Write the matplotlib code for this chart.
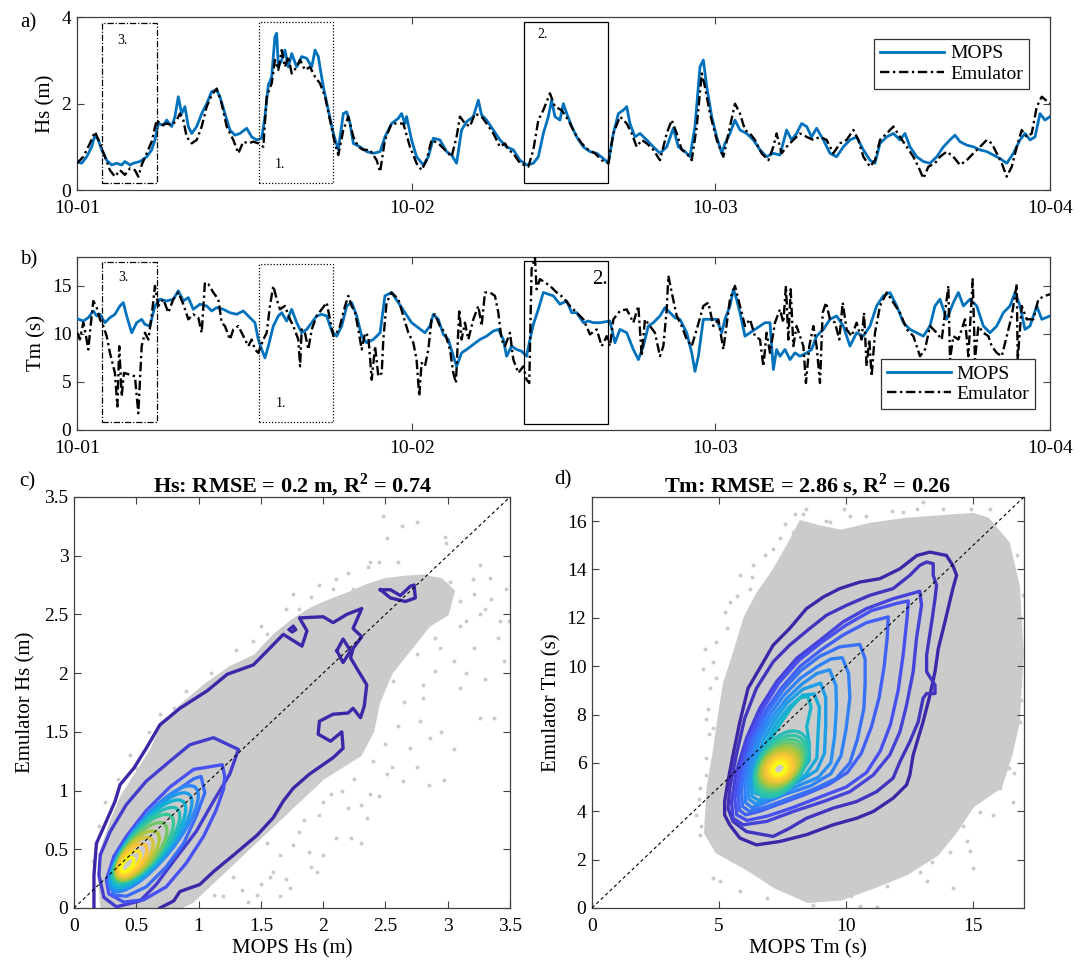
"""Recreate the MOPS vs emulator wave comparison figure (time series + scatter)."""

import matplotlib

matplotlib.use("Agg")

import matplotlib.pyplot as plt
from matplotlib.colors import LinearSegmentedColormap
from matplotlib.patches import Ellipse, Polygon, Rectangle

plt.rcParams["font.family"] = ["Liberation Serif", "DejaVu Serif"]
plt.rcParams["mathtext.fontset"] = "custom"
plt.rcParams["mathtext.rm"] = "Liberation Serif"
plt.rcParams["mathtext.bf"] = "Liberation Serif:bold"

# ---------------------------------------------------------------- time axis
TIME_TICKS = [0.0, 24.8, 47.2, 72.0]  # hours from the left edge
TIME_TICK_LABELS = ["10-01", "10-02", "10-03", "10-04"]

# ---------------------------------------------------------------- panel a: Hs
HS_MOPS_T = [
    0, 0.35, 0.72, 1.09, 1.33, 1.58, 1.83, 2.20, 2.57, 2.94, 3.31, 3.55, 3.92, 4.17, 4.66,
    5.16, 5.53, 5.77, 6.02, 6.39, 6.64, 7.01, 7.25, 7.50, 7.75, 7.99, 8.24, 8.49, 8.86, 9.23,
    9.60, 9.97, 10.34, 10.58, 10.95, 11.32, 11.69, 12.06, 12.56, 12.93, 13.30, 13.67, 13.91,
    14.16, 14.41, 14.65, 14.78, 14.90, 15.15, 15.39, 15.64, 15.89, 16.26, 16.63, 17.00, 17.37,
    17.62, 17.86, 17.98, 18.23, 18.60, 18.97, 19.34, 19.71, 19.96, 20.21, 20.45, 20.94, 21.44,
    21.93, 22.43, 22.79, 23.28, 23.78, 24.02, 24.27, 24.39, 24.76, 25.13, 25.63, 26.00, 26.37,
    26.86, 27.35, 27.72, 28.09, 28.46, 28.83, 29.33, 29.70, 29.94, 30.31, 30.81, 31.30, 31.79,
    32.29, 32.78, 33.27, 33.77, 34.14, 34.51, 34.88, 35.12, 35.37, 35.74, 35.99, 36.24, 36.61,
    36.98, 37.47, 37.96, 38.46, 38.95, 39.32, 39.69, 40.06, 40.43, 40.68, 40.92, 41.29, 41.66,
    42.16, 42.65, 43.14, 43.64, 44.13, 44.50, 45.00, 45.36, 45.73, 46.10, 46.35, 46.60, 46.97,
    47.34, 47.71, 47.95, 48.32, 48.69, 49.06, 49.55, 50.05, 50.54, 51.03, 51.53, 52.02, 52.51,
    52.88, 53.25, 53.62, 54.00, 54.36, 54.73, 55.23, 55.72, 56.21, 56.71, 57.20, 57.69, 58.19,
    58.68, 59.05, 59.42, 59.92, 60.41, 60.90, 61.27, 61.64, 62.14, 62.63, 63.12, 63.62, 64.11,
    64.60, 64.97, 65.34, 65.84, 66.33, 66.82, 67.32, 67.81, 68.30, 68.80, 69.29, 69.78, 70.15,
    70.52, 70.89, 71.26, 71.63, 72.0,
]
HS_MOPS = [
    0.66, 0.62, 0.77, 1.00, 1.27, 1.16, 0.93, 0.69, 0.58, 0.62, 0.58, 0.66, 0.58, 0.62, 0.66,
    0.77, 0.93, 1.16, 1.54, 1.50, 1.62, 1.47, 1.70, 2.16, 1.77, 1.93, 1.47, 1.31, 1.47, 1.77,
    2.00, 2.28, 2.31, 2.16, 1.77, 1.39, 1.27, 1.31, 1.43, 1.23, 1.16, 1.20, 1.70,
    2.43, 2.62, 3.55, 3.63, 2.85, 3.01, 3.24, 2.85, 3.16, 2.85, 3.09, 3.05, 2.85,
    3.24, 3.09, 2.85, 2.39, 1.85, 1.31, 0.93, 1.77, 1.81, 1.54, 1.08, 1.00, 0.89,
    0.85, 0.89, 1.23, 1.54, 1.66, 1.77, 1.54, 1.70, 1.16, 0.77, 0.58, 0.77, 1.20,
    1.16, 0.89, 0.81, 0.62, 1.39, 1.58, 1.70, 2.08, 1.74, 1.62, 1.39, 1.16, 1.00,
    0.93, 0.69, 0.58, 0.62, 0.77, 1.31, 1.70, 2.08, 1.70, 1.62, 2.00, 1.77, 1.47,
    1.23, 1.00, 0.89, 0.85, 0.73, 0.62, 1.31, 1.77, 1.85, 1.93, 1.54, 1.23, 1.31,
    1.16, 1.00, 0.85, 1.00, 1.43, 1.00, 0.89, 0.77, 1.47, 2.85, 3.01, 2.39, 1.70,
    1.23, 0.85, 1.08, 1.31, 1.62, 1.39, 1.31, 1.16, 0.93, 0.77, 0.85, 0.81, 1.39,
    1.16, 1.31, 1.54, 1.47, 1.23, 1.43, 1.16, 0.85, 0.77, 1.00, 1.16, 1.23, 0.93,
    0.69, 0.62, 1.08, 1.23, 1.31, 1.16, 1.31, 1.00, 0.77, 0.66, 0.62, 0.77, 1.00,
    1.16, 1.27, 1.12, 1.04, 1.00, 0.93, 0.89, 0.81, 0.73, 0.62, 0.85, 1.16, 1.31,
    1.16, 1.23, 1.77, 1.62, 1.70,
]
HS_EMU_T = [
    0, 0.47, 0.96, 1.33, 1.70, 2.07, 2.44, 2.81, 3.18, 3.55, 3.92, 4.29, 4.54, 4.79, 5.16,
    5.53, 5.90, 6.27, 6.64, 7.01, 7.38, 7.62, 7.87, 8.12, 8.49, 8.86, 9.23, 9.60, 9.97, 10.34,
    10.71, 11.08, 11.57, 11.94, 12.31, 12.68, 13.05, 13.42, 13.79, 14.04, 14.41, 14.65, 14.90,
    15.15, 15.39, 15.64, 15.89, 16.26, 16.51, 16.87, 17.24, 17.62, 17.98, 18.36, 18.72, 19.09,
    19.34, 19.71, 20.08, 20.45, 20.82, 21.19, 21.68, 22.18, 22.43, 22.79, 23.28, 23.78, 24.15,
    24.64, 25.13, 25.50, 25.87, 26.24, 26.74, 27.23, 27.72, 28.09, 28.34, 28.71, 29.08, 29.45,
    29.94, 30.31, 30.81, 31.30, 31.67, 31.92, 32.29, 32.78, 33.40, 33.77, 34.14, 34.51, 35.00,
    35.37, 35.86, 36.36, 36.85, 37.35, 37.84, 38.33, 38.83, 39.32, 39.69, 40.18, 40.68, 41.05,
    41.42, 41.79, 42.16, 42.65, 43.14, 43.64, 44.01, 44.38, 44.75, 45.12, 45.49, 45.86, 46.23,
    46.47, 46.84, 47.34, 47.83, 48.32, 48.69, 49.06, 49.43, 49.80, 50.17, 50.66, 51.16, 51.53,
    51.77, 52.14, 52.51, 53.01, 53.50, 54.00, 54.49, 54.98, 55.47, 55.97, 56.46, 56.95, 57.45,
    57.82, 58.19, 58.68, 59.05, 59.42, 59.92, 60.41, 60.90, 61.40, 61.89, 62.26, 62.63, 63.00,
    63.49, 63.86, 64.36, 64.85, 65.34, 65.84, 66.33, 66.82, 67.32, 67.69, 68.06, 68.43, 68.80,
    69.17, 69.54, 69.91, 70.28, 70.65, 71.02, 71.39, 72.0,
]
HS_EMU = [
    0.62, 0.77, 1.08, 1.35, 1.08, 0.77, 0.46, 0.31, 0.46, 0.35, 0.50, 0.46, 0.31, 0.58, 0.85,
    1.12, 1.62, 1.50, 1.54, 1.50, 1.62, 1.77, 1.62, 1.23, 1.08, 1.16, 1.47, 1.93, 2.20, 2.35,
    2.00, 1.47, 1.16, 0.85, 1.12, 1.08, 1.12, 1.08, 1.00, 2.16, 2.47, 3.01, 2.78,
    3.24, 2.85, 3.09, 2.70, 2.85, 3.01, 2.78, 2.85, 2.62, 2.47, 2.16, 1.62, 1.08,
    0.81, 1.39, 1.70, 1.23, 1.00, 0.93, 0.93, 0.69, 0.42, 1.16, 1.54, 1.54, 1.54,
    1.00, 0.62, 0.46, 0.69, 1.16, 1.08, 0.93, 0.77, 1.23, 1.70, 1.54, 1.47, 1.77,
    1.70, 1.54, 1.31, 1.00, 1.08, 0.93, 0.85, 0.62, 0.54, 0.93, 1.62, 1.85, 2.24,
    1.93, 1.85, 1.62, 1.31, 1.08, 0.93, 0.85, 0.69, 0.62, 1.31, 1.70, 1.54, 1.31,
    1.00, 1.16, 1.08, 0.93, 0.69, 1.31, 1.62, 1.31, 0.93, 0.85, 0.69, 1.47, 2.70,
    2.39, 1.77, 1.16, 0.77, 1.47, 2.00, 1.77, 1.39, 1.31, 1.16, 0.85, 0.69, 1.00,
    1.31, 0.85, 1.00, 1.16, 1.31, 1.23, 1.16, 1.23, 1.16, 0.85, 1.08, 1.16, 1.39,
    1.16, 0.77, 0.54, 0.69, 1.16, 1.31, 1.47, 1.23, 1.00, 0.77, 0.54, 0.27, 0.54,
    0.62, 0.77, 0.89, 0.77, 0.58, 0.69, 0.85, 1.00, 1.16, 1.08, 0.85, 0.62, 0.31,
    0.54, 1.00, 1.39, 1.23, 1.31, 1.93, 2.16, 2.00,
]

# ---------------------------------------------------------------- panel b: Tm
TM_MOPS_T = [
    0, 0.47, 0.84, 1.21, 1.46, 1.70, 2.07, 2.44, 2.81, 3.18, 3.43, 3.68, 4.05, 4.42, 4.79,
    5.03, 5.40, 5.77, 6.14, 6.64, 7.13, 7.50, 7.87, 8.24, 8.61, 9.10, 9.60, 9.97, 10.34, 10.83,
    11.32, 11.82, 12.31, 12.80, 13.17, 13.42, 13.67, 13.91, 14.16, 14.53, 14.90, 15.15, 15.52,
    15.89, 16.26, 16.63, 17.00, 17.37, 17.74, 18.11, 18.48, 18.85, 19.22, 19.59, 19.96, 20.33,
    20.70, 21.07, 21.44, 21.93, 22.43, 22.79, 23.28, 23.78, 24.27, 24.76, 25.26, 25.75, 26.12,
    26.37, 26.74, 27.11, 27.48, 27.85, 28.09, 28.46, 28.83, 29.33, 29.82, 30.31, 30.81, 31.18,
    31.55, 31.79, 32.16, 32.53, 32.90, 33.27, 33.52, 33.77, 34.14, 34.51, 34.88, 35.25, 35.74,
    36.24, 36.61, 36.98, 37.47, 37.84, 38.21, 38.70, 39.44, 39.81, 40.18, 40.68, 41.17, 41.54,
    41.91, 42.28, 42.65, 43.14, 43.51, 43.88, 44.25, 44.62, 45.12, 45.49, 45.73, 45.98, 46.35,
    46.84, 47.34, 47.71, 47.95, 48.32, 48.57, 48.81, 49.06, 49.43, 49.80, 50.17, 50.54, 50.91,
    51.28, 51.53, 51.77, 52.02, 52.39, 52.76, 53.13, 53.50, 54.00, 54.36, 54.73, 55.23, 55.72,
    56.21, 56.71, 57.20, 57.69, 58.19, 58.68, 59.17, 59.67, 60.16, 60.66, 61.15, 61.64, 62.14,
    62.63, 63.12, 63.49, 63.86, 64.36, 64.85, 65.22, 65.59, 66.08, 66.58, 67.07, 67.56, 68.06,
    68.55, 69.04, 69.41, 69.78, 70.15, 70.52, 71.02, 71.39, 72.0,
]
TM_MOPS = [
    11.58, 11.33, 11.68, 12.38, 11.86, 12.03, 11.16, 11.68, 12.03, 12.90, 13.25, 11.86, 10.11,
    11.16, 11.51, 10.98, 10.81, 12.90, 13.60, 13.42, 13.60, 14.47, 13.42, 13.77, 12.55, 13.08,
    12.90, 12.38, 12.73, 12.55, 12.20, 12.03, 12.38, 11.68, 11.16, 9.41, 8.37, 7.50, 8.72,
    10.81, 11.86, 12.20, 11.33, 12.55, 11.16, 10.11, 10.46, 11.16, 11.86, 12.03, 11.86, 10.29,
    9.76, 10.81, 12.90, 13.25, 11.86, 9.76, 9.07, 9.41, 10.11, 13.95, 14.30, 13.25, 12.20,
    11.16, 10.63, 10.11, 10.81, 12.03, 11.51, 9.94, 9.41, 7.67, 6.62, 8.02, 8.37, 8.89, 9.41,
    9.76, 10.29, 10.46, 9.41, 7.67, 8.72, 8.37, 8.19, 7.67, 9.41, 10.98, 12.55, 14.30, 14.12,
    13.95, 13.08, 13.42, 12.20, 12.20, 11.16, 11.33, 11.16, 11.16, 11.33, 9.07, 10.46, 10.11,
    8.37, 7.32, 8.72, 10.81, 11.16, 11.86, 12.73, 12.20, 11.68, 11.51, 10.11, 8.02, 6.10,
    7.67, 11.51, 11.51, 11.51, 10.11, 11.51, 12.90, 14.64, 13.60, 12.20, 9.76, 10.11, 10.46,
    10.81, 11.16, 11.16, 6.28, 8.37, 7.67, 8.37, 7.32, 8.02, 7.67, 8.02, 8.37, 9.76, 10.46,
    11.51, 11.86, 10.81, 8.72, 10.11, 9.76, 10.81, 12.90, 13.95, 14.30, 12.90, 11.16, 10.46,
    10.11, 9.76, 10.81, 12.90, 13.60, 11.51, 13.25, 14.30, 12.90, 13.60, 12.90, 10.81, 10.11,
    10.81, 12.20, 12.90, 14.30, 12.90, 10.46, 10.81, 12.90, 11.51, 11.86,
]
TM_EMU_T = [
    0.03, 0.22, 0.47, 0.67, 0.84, 1.01, 1.21, 1.46, 1.70, 1.95, 2.20, 2.44, 2.81, 2.99, 3.13,
    3.31, 3.48, 3.92, 4.29, 4.54, 4.79, 5.03, 5.28, 5.53, 5.77, 6.02, 6.39, 6.76, 7.13, 7.50,
    7.87, 8.24, 8.61, 8.98, 9.23, 9.47, 9.72, 10.09, 10.46, 10.71, 10.95, 11.32, 11.57, 11.94,
    12.31, 12.68, 12.93, 13.17, 13.42, 13.79, 14.04, 14.28, 14.53, 14.78, 15.02, 15.39, 15.76,
    16.01, 16.38, 16.51, 16.63, 16.87, 17.12, 17.37, 17.74, 18.11, 18.48, 18.72, 18.97, 19.22,
    19.46, 19.84, 20.08, 20.33, 20.58, 20.82, 21.07, 21.32, 21.56, 21.81, 22.06, 22.30, 22.55,
    22.67, 22.91, 23.28, 23.78, 24.15, 24.52, 24.89, 25.13, 25.33, 25.50, 25.75, 26.00, 26.24,
    26.49, 26.86, 27.23, 27.60, 27.85, 28.04, 28.29, 28.46, 28.71, 28.96, 29.33, 29.70, 29.94,
    30.19, 30.56, 30.93, 31.18, 31.42, 31.67, 32.04, 32.29, 32.66, 33.03, 33.27, 33.47, 33.64,
    33.89, 34.01, 34.26, 34.63, 35.00, 35.50, 35.99, 36.48, 36.98, 37.47, 37.96, 38.46, 38.83,
    39.20, 39.44, 39.69, 40.18, 40.68, 41.17, 41.54, 41.79, 42.03, 42.40, 42.77, 43.14, 43.39,
    43.64, 43.76, 44.01, 44.38, 44.75, 45.12, 45.49, 45.86, 46.35, 46.72, 47.09, 47.46, 47.83,
    48.32, 48.69, 49.06, 49.43, 49.80, 50.17, 50.54, 50.79, 51.03, 51.28, 51.65, 52.02, 52.27,
    52.46, 52.64, 52.81, 53.01, 53.25, 53.50, 53.75, 53.94, 54.19, 54.49, 54.73, 54.98, 55.18,
    55.43, 55.72, 56.09, 56.41, 56.66, 56.95, 57.32, 57.69, 58.06, 58.24, 58.43, 58.63, 58.80,
    59.05, 59.42, 59.92, 60.41, 60.90, 61.40, 61.89, 62.38, 62.75, 63.12, 63.62, 63.99, 64.48,
    64.60, 64.85, 65.22, 65.71, 65.96, 66.28, 66.45, 66.70, 67.07, 67.44, 67.69, 68.06, 68.43,
    68.80, 69.17, 69.54, 69.61, 69.91, 70.28, 70.77, 71.14, 71.63, 72.0,
]
TM_EMU = [
    10.11, 9.41, 11.16, 9.76, 8.37, 10.81, 13.42, 12.73, 11.51, 10.81, 9.76, 8.02, 5.93, 2.44,
    8.72, 3.49, 5.93, 5.75, 5.58, 1.74, 8.72, 10.11, 9.41, 11.86, 14.99, 12.90, 13.60, 12.20,
    13.60, 14.30, 13.08, 11.51, 12.03, 11.68, 10.11, 15.34, 15.17, 14.30, 13.60, 11.16, 10.81,
    9.41, 10.46, 10.81, 9.76, 8.72, 9.41, 8.37, 8.02, 9.41, 10.11, 12.90, 14.99, 13.60, 12.55,
    12.90, 11.51, 10.81, 9.41, 6.62, 10.46, 10.11, 8.37, 10.46, 11.86, 12.55, 13.25, 11.51,
    9.76, 10.11, 10.81, 12.90, 13.95, 12.90, 12.20, 10.46, 8.37, 10.11, 9.76, 5.23, 8.72, 5.58,
    5.93, 9.41, 13.25, 14.30, 13.60, 11.86, 10.11, 9.07, 7.32, 3.49, 6.97, 6.62, 8.37, 11.51,
    12.03, 10.81, 10.11, 8.37, 5.93, 4.88, 12.55, 9.41, 11.16, 9.41, 11.51, 12.90, 10.81,
    14.30, 14.30, 13.95, 12.20, 9.41, 8.72, 10.11, 7.32, 5.93, 6.62, 5.23, 4.88, 16.74,
    17.96, 14.64, 15.69, 15.34, 14.99, 14.30, 13.77, 12.90, 12.20, 11.51, 9.94, 10.46, 8.72,
    9.76, 8.72, 11.51, 12.38, 12.55, 11.16, 12.90, 7.67, 11.51, 10.81, 10.11, 7.67, 8.72,
    12.55, 16.04, 14.30, 11.86, 10.81, 9.41, 8.72, 10.46, 12.90, 13.25, 10.81, 11.51, 8.37,
    13.60, 14.99, 12.90, 10.81, 11.51, 9.76, 9.41, 6.62, 10.11, 8.02, 11.16, 12.55, 11.16,
    14.99, 9.41, 14.64, 8.72, 10.81, 9.76, 8.72, 4.88, 8.72, 10.81, 8.72, 4.88, 12.20,
    13.25, 11.51, 11.16, 9.41, 13.25, 10.46, 9.76, 11.16, 9.41, 12.20, 6.62, 9.41, 5.58,
    10.11, 12.90, 14.30, 13.25, 12.20, 10.46, 9.76, 7.67, 8.37, 10.81, 10.11, 9.41, 14.99,
    7.32, 9.76, 9.41, 11.51, 7.67, 15.69, 7.32, 10.81, 10.11, 9.76, 8.72, 8.02, 7.67,
    9.76, 11.86, 15.17, 7.32, 12.90, 11.51, 11.51, 13.60, 13.95, 14.12,
]

# highlighted events: label, start/end hour, bottom/top value in a and b
EVENT_LABELS = ["1.", "2.", "3."]
EVENT_START = [13.5, 33.1, 1.85]
EVENT_END = [18.95, 39.3, 5.9]
EVENT_HS_LOW = [0.155, 0.155, 0.155]
EVENT_HS_HIGH = [3.89, 3.89, 3.87]
EVENT_TM_LOW = [0.87, 0.63, 0.80]
EVENT_TM_HIGH = [17.30, 17.54, 17.44]
EVENT_HS_TEXT = [(14.65, 0.58), (34.1, 3.59), (2.96, 3.47)]
EVENT_TM_TEXT = [(14.7, 2.8), (38.1, 15.7), (3.03, 15.9)]

# ---------------------------------------------------------------- panel c: Hs scatter
C_TICKS = [0, 0.5, 1, 1.5, 2, 2.5, 3, 3.5]
C_TICK_LABELS = ["0", "0.5", "1", "1.5", "2", "2.5", "3", "3.5"]
C_TITLE = r"Hs: RMSE = 0.2 m, R$^{\mathbf{2}}$ = 0.74"
C_CLOUD = [
    (0.22, 0.0), (0.20, 0.25), (0.22, 0.5), (0.30, 0.75), (0.38, 0.95), (0.50, 1.15), (0.62, 1.35),
    (0.70, 1.55), (0.85, 1.72), (1.05, 1.90), (1.25, 2.05), (1.45, 2.15), (1.60, 2.32), (1.75, 2.45),
    (1.90, 2.55), (2.05, 2.62), (2.20, 2.68), (2.35, 2.75), (2.50, 2.80), (2.65, 2.82), (2.80, 2.83),
    (2.95, 2.80), (3.05, 2.70), (3.00, 2.50), (2.85, 2.40), (2.70, 2.20), (2.55, 2.00), (2.45, 1.75),
    (2.40, 1.50), (2.30, 1.30), (2.15, 1.20), (2.00, 1.10), (1.85, 0.95), (1.70, 0.80), (1.55, 0.65),
    (1.40, 0.50), (1.25, 0.35), (1.10, 0.20), (0.95, 0.05), (0.85, 0.0),
]
C_SPARSE_X = [
    2.48, 2.51, 2.63, 2.75, 2.98, 2.99, 2.38, 2.36, 3.26, 3.35, 3.34, 3.47, 3.26, 3.21, 3.42,
    3.05, 2.90, 3.10, 2.80, 3.26, 3.37, 2.78, 2.86, 2.70, 2.64, 2.97, 2.51, 2.35, 2.30, 2.38,
    2.22, 2.30, 1.97, 2.06, 1.89, 1.95, 1.76, 1.81, 1.60, 1.57, 1.47, 1.73, 1.28, 1.12, 2.08,
    2.35, 2.46, 2.62, 2.75, 2.56, 2.94, 3.10, 3.15, 3.02, 3.21, 3.49, 2.30, 2.24, 2.08, 1.97,
    1.81, 1.76, 1.55, 1.44, 1.28, 1.12, 0.80, 0.69, 0.50,
    1.55, 1.65, 1.85, 2.00, 2.10, 1.90, 1.70, 1.50, 1.35, 1.20, 2.25, 2.40, 2.50, 2.60, 2.55,
    2.45, 2.20, 2.65, 2.80, 2.90, 3.10, 3.30, 3.40, 3.15, 2.70, 2.85, 3.00, 3.20, 2.60, 2.45,
    2.20, 2.10, 1.90, 1.70, 1.50, 1.30, 1.10, 0.90, 0.60, 0.45, 0.35, 0.25, 0.20, 0.15,
    2.95, 3.05, 2.75, 2.85, 3.30, 3.45, 2.15, 2.00, 1.65, 1.40,
]
C_SPARSE_Y = [
    3.34, 3.15, 3.25, 3.29, 3.16, 3.11, 2.95, 2.90, 2.92, 2.63, 2.81, 2.72, 2.50, 2.21, 2.44,
    2.10, 2.02, 1.87, 1.79, 1.62, 1.62, 1.59, 1.45, 1.36, 1.08, 1.09, 1.14, 0.77, 0.88, 0.97,
    0.60, 0.55, 0.79, 0.97, 0.48, 0.31, 0.54, 0.65, 0.31, 0.26, 0.11, 0.17, 0.26, 0.11, 1.31,
    1.70, 2.02, 2.27, 2.16, 1.93, 2.21, 2.61, 2.44, 2.78, 2.67, 2.44, 2.67, 2.72, 2.72, 2.75,
    2.55, 2.67, 2.33, 2.27, 2.02, 1.93, 1.70, 1.65, 1.19,
    0.55, 0.45, 0.75, 0.90, 0.60, 0.35, 0.25, 0.20, 0.15, 0.10, 1.10, 1.25, 1.40, 1.55, 1.20,
    0.95, 0.85, 1.75, 1.90, 2.30, 2.40, 2.55, 2.30, 2.00, 2.45, 2.60, 2.65, 2.80, 2.95, 2.95,
    2.85, 2.80, 2.65, 2.55, 2.40, 2.20, 2.00, 1.85, 1.50, 1.30, 1.10, 0.90, 0.70, 0.40,
    1.50, 1.35, 1.20, 1.05, 1.95, 2.10, 1.00, 0.45, 0.10, 0.05,
]
C_OUTER = [
    (0.16, 0.0), (0.16, 0.28), (0.18, 0.55), (0.26, 0.74), (0.33, 0.91), (0.37, 1.05), (0.48, 1.19),
    (0.58, 1.36), (0.69, 1.56), (0.85, 1.70), (1.07, 1.85), (1.23, 1.99), (1.44, 2.07), (1.57, 2.21),
    (1.68, 2.33), (1.83, 2.23), (1.87, 2.36), (1.81, 2.47), (2.00, 2.48), (2.08, 2.43), (2.19, 2.50),
    (2.31, 2.55), (2.24, 2.38), (2.31, 2.31), (2.24, 2.21), (2.22, 2.13), (2.27, 2.04), (2.35, 1.90),
    (2.33, 1.72), (2.30, 1.62), (2.24, 1.70), (2.20, 1.66), (2.08, 1.65), (1.97, 1.59), (1.96, 1.48),
    (2.06, 1.42), (2.15, 1.50), (2.16, 1.36), (2.08, 1.28), (1.89, 1.14), (1.76, 1.02), (1.68, 0.91),
    (1.60, 0.77), (1.47, 0.62), (1.28, 0.45), (1.12, 0.31), (1.01, 0.20), (0.85, 0.14), (0.80, 0.06),
    (0.69, 0.0),
]
C_ISLANDS = [
    [(2.46, 2.71), (2.54, 2.71), (2.62, 2.66), (2.70, 2.74), (2.73, 2.75), (2.74, 2.64), (2.66, 2.61),
     (2.54, 2.64), (2.46, 2.71)],
    [(2.11, 2.19), (2.16, 2.29), (2.22, 2.19), (2.16, 2.09), (2.11, 2.19)],
    [(1.73, 2.37), (1.76, 2.40), (1.78, 2.37), (1.75, 2.35), (1.73, 2.37)],
]
C_RINGS = [
    [(1.12, 1.45), (1.32, 1.35), (1.25, 1.14), (1.12, 0.91), (0.98, 0.65), (0.80, 0.40), (0.66, 0.20),
     (0.53, 0.06), (0.34, 0.01), (0.24, 0.09), (0.20, 0.28), (0.21, 0.45), (0.29, 0.65), (0.42, 0.88),
     (0.58, 1.08), (0.77, 1.25), (0.93, 1.39), (1.12, 1.45)],
    [(1.19, 1.22), (1.21, 1.12), (1.20, 1.01), (1.14, 0.83), (1.04, 0.61), (0.90, 0.38), (0.74, 0.18),
     (0.56, 0.07), (0.40, 0.05), (0.28, 0.12), (0.26, 0.24), (0.32, 0.44), (0.42, 0.61), (0.58, 0.83),
     (0.77, 1.03), (0.96, 1.18), (1.19, 1.22)],
    [(1.02, 1.12), (1.05, 0.98), (0.98, 0.78), (0.88, 0.55), (0.74, 0.35), (0.58, 0.18), (0.42, 0.10),
     (0.32, 0.11), (0.29, 0.21), (0.33, 0.38), (0.45, 0.58), (0.61, 0.78), (0.80, 0.98), (0.96, 1.10),
     (1.02, 1.12)],
]
# inner rings: centre x, centre y, length, width, angle (deg)
C_CORE = [
    (0.64, 0.59, 1.10, 0.34, 53), (0.62, 0.57, 1.00, 0.32, 53), (0.60, 0.55, 0.90, 0.30, 53),
    (0.58, 0.53, 0.80, 0.28, 52), (0.56, 0.51, 0.70, 0.26, 52), (0.54, 0.48, 0.60, 0.235, 52),
    (0.51, 0.45, 0.50, 0.21, 52), (0.49, 0.43, 0.41, 0.18, 52), (0.47, 0.41, 0.32, 0.15, 52),
    (0.45, 0.39, 0.23, 0.11, 52), (0.43, 0.37, 0.14, 0.07, 52),
]

# ---------------------------------------------------------------- panel d: Tm scatter
D_XTICKS = [0, 5, 10, 15]
D_YTICKS = [0, 2, 4, 6, 8, 10, 12, 14, 16]
D_TITLE = r"Tm: RMSE = 2.86 s, R$^{\mathbf{2}}$ = 0.26"
D_CLOUD = [
    (4.45, 3.1), (4.55, 5.0), (4.8, 6.5), (5.0, 8.0), (5.2, 9.3), (5.6, 10.6), (6.0, 12.0),
    (6.5, 13.0), (7.1, 13.9), (7.7, 15.0), (8.2, 16.0), (8.9, 15.8), (9.8, 15.6), (11.0, 15.9),
    (12.4, 16.1), (13.7, 16.2), (15.0, 16.3), (15.6, 16.1), (16.4, 15.1), (16.8, 13.3),
    (16.95, 10.5), (16.8, 7.7), (16.5, 6.3), (16.1, 5.0), (15.0, 4.2), (14.3, 3.1), (13.6, 2.2),
    (12.4, 1.4), (11.1, 0.85), (9.8, 0.35), (8.5, 0.25), (7.2, 0.85), (6.1, 1.6), (4.9, 2.3),
]
D_SPARSE_X = [
    4.37, 4.44, 4.77, 4.50, 4.11, 4.24, 4.77, 5.03, 5.82, 6.87, 8.70, 10.54, 11.2, 13.17, 14.22,
    14.74, 14.87, 15.27, 16.05, 16.45, 16.84, 16.97, 16.84, 16.32, 15.66, 15.0, 13.03, 12.25,
    10.15, 8.44, 8.31, 7.92, 7.13, 6.34, 5.82, 5.42, 5.22, 4.90, 4.63, 4.57, 4.77, 4.50, 4.24,
    15.0, 15.79, 16.58, 16.71, 14.35, 11.07, 9.36, 16.6, 16.4, 4.6, 5.5, 6.2, 7.6, 12.9, 14.1,
    4.3, 4.2, 4.5, 4.9, 5.3, 5.7, 6.3, 6.8, 7.4, 8.0, 9.2, 9.9, 10.8, 11.8, 12.8, 13.8, 14.9,
    15.5, 16.2, 16.9, 16.7, 16.9, 16.6, 14.6, 13.4, 11.6, 10.2, 8.9, 7.9, 7.0, 6.5, 5.9, 5.3,
]
D_SPARSE_Y = [
    9.90, 10.73, 10.18, 6.19, 3.85, 3.03, 1.24, 1.10, 0.69, 0.41, 0.14, 0.07, 0.05, 1.10, 0.83,
    2.75, 2.34, 3.99, 4.95, 6.60, 7.70, 12.93, 9.22, 15.06, 16.51, 16.23, 16.78, 16.37,
    16.23, 16.51, 16.30, 15.55, 14.86, 14.17, 13.76, 12.66, 12.24, 11.00, 9.08, 8.25, 7.43, 5.50, 4.95,
    1.65, 3.85, 4.40, 14.58, 16.10, 15.27, 15.96, 11.5, 5.8, 7.2, 2.0, 13.2, 15.9, 1.5, 2.3,
    3.4, 4.5, 7.8, 9.5, 11.6, 12.9, 13.7, 14.6, 15.3, 16.3, 16.0, 16.5, 16.2, 16.4, 16.5, 16.5, 16.5,
    15.8, 14.3, 12.0, 10.0, 8.6, 5.6, 3.4, 1.9, 0.9, 0.5, 0.45, 0.6, 1.1, 1.5, 2.0, 2.4,
]
D_RINGS = [
    [(6.47, 2.61), (5.82, 2.89), (5.42, 3.44), (5.22, 3.85), (5.22, 4.40), (5.35, 5.23), (5.55, 6.33),
     (5.82, 7.70), (6.14, 9.08), (6.60, 9.91), (7.13, 10.87), (7.78, 11.56), (8.44, 12.38), (9.10, 12.86),
     (9.75, 13.21), (10.54, 13.48), (11.33, 13.62), (12.12, 14.03), (12.79, 14.58), (13.30, 14.72),
     (13.95, 14.58), (14.20, 14.17), (14.35, 13.76), (14.20, 13.20), (13.89, 11.83), (13.63, 10.73),
     (13.50, 9.77), (13.30, 8.80), (13.03, 7.70), (12.64, 6.33), (12.51, 5.50), (12.38, 5.09),
     (11.85, 4.54), (11.07, 3.99), (10.41, 3.71), (9.49, 3.44), (8.44, 3.03), (7.39, 2.75), (6.47, 2.61)],
    [(7.13, 2.96), (6.08, 3.16), (5.55, 3.58), (5.35, 4.13), (5.42, 4.95), (5.68, 6.33), (6.01, 7.84),
     (6.47, 9.08), (7.13, 10.18), (7.78, 10.87), (8.57, 11.56), (9.23, 12.11), (10.02, 12.52),
     (10.93, 12.93), (11.85, 13.21), (12.51, 13.76), (12.90, 14.17), (13.17, 14.31), (13.43, 14.24),
     (13.43, 13.76), (13.56, 13.34), (13.50, 12.79), (13.37, 11.83), (13.17, 10.46), (13.17, 9.77),
     (13.50, 9.22), (13.50, 8.87), (13.17, 8.87), (13.03, 8.67), (12.84, 7.70), (12.51, 6.88),
     (12.12, 6.05), (11.85, 5.37), (11.20, 4.81), (10.41, 4.40), (9.49, 4.13), (8.44, 3.71),
     (7.78, 3.30), (7.13, 2.96)],
    [(12.90, 13.10), (12.97, 12.52), (12.77, 11.14), (12.64, 9.77), (12.38, 8.39), (12.12, 7.29),
     (11.72, 6.33), (11.07, 5.50), (10.15, 4.81), (9.10, 4.40), (7.92, 3.99), (6.87, 3.58), (5.95, 3.44),
     (5.55, 3.71), (5.49, 4.40), (5.68, 5.64), (6.08, 7.02), (6.60, 8.25), (7.26, 9.35), (8.05, 10.32),
     (8.97, 11.07), (9.88, 11.83), (10.80, 12.38), (11.85, 12.79), (12.90, 13.10)],
    [(12.45, 12.70), (12.40, 12.0), (12.25, 10.5), (12.05, 9.0), (11.75, 7.6), (11.35, 6.5), (10.8, 5.6),
     (10.0, 5.0), (9.0, 4.6), (7.9, 4.15), (6.9, 3.8), (6.1, 3.62), (5.7, 3.85), (5.62, 4.5), (5.8, 5.6),
     (6.15, 6.9), (6.7, 8.2), (7.35, 9.3), (8.15, 10.25), (9.05, 11.0), (10.0, 11.7), (11.0, 12.3),
     (12.0, 12.6), (12.45, 12.70)],
    [(11.66, 12.04), (11.62, 11.2), (11.5, 10.0), (11.3, 8.7), (11.0, 7.5), (10.6, 6.4), (10.05, 5.6),
     (9.3, 5.1), (8.4, 4.7), (7.5, 4.35), (6.6, 4.0), (6.05, 3.85), (5.8, 4.05), (5.75, 4.7), (5.92, 5.7),
     (6.25, 6.9), (6.8, 8.1), (7.45, 9.1), (8.2, 10.0), (9.05, 10.7), (9.9, 11.3), (10.8, 11.8),
     (11.66, 12.04)],
    [(10.54, 10.9), (10.75, 10.3), (10.75, 9.3), (10.7, 8.25), (10.45, 7.0), (10.15, 6.0), (9.6, 5.35),
     (8.7, 4.9), (7.8, 4.55), (6.9, 4.2), (6.2, 4.0), (5.92, 4.2), (5.88, 4.9), (6.05, 5.9), (6.38, 7.0),
     (6.9, 8.1), (7.5, 9.0), (8.2, 9.8), (8.95, 10.4), (9.75, 10.8), (10.54, 10.9)],
    [(9.85, 10.35), (10.1, 9.7), (10.15, 8.7), (10.0, 7.4), (9.8, 6.3), (9.4, 5.55), (8.6, 5.05),
     (7.6, 4.7), (6.8, 4.35), (6.3, 4.15), (6.05, 4.35), (6.02, 5.0), (6.18, 6.0), (6.5, 7.0), (7.0, 8.0),
     (7.55, 8.8), (8.2, 9.5), (8.9, 10.0), (9.4, 10.3), (9.85, 10.35)],
    [(9.35, 9.85), (9.6, 9.2), (9.62, 8.3), (9.55, 7.1), (9.4, 6.0), (8.9, 5.4), (8.0, 5.0), (7.1, 4.6),
     (6.45, 4.3), (6.18, 4.5), (6.15, 5.1), (6.3, 6.0), (6.62, 7.0), (7.1, 7.9), (7.65, 8.65),
     (8.25, 9.25), (8.85, 9.7), (9.35, 9.85)],
    [(9.0, 9.3), (9.2, 8.7), (9.2, 7.6), (9.15, 6.4), (8.85, 5.7), (8.1, 5.2), (7.2, 4.8), (6.55, 4.45),
     (6.3, 4.62), (6.28, 5.2), (6.42, 6.0), (6.75, 6.95), (7.2, 7.8), (7.7, 8.5), (8.3, 9.05), (9.0, 9.3)],
    [(8.75, 8.85), (8.95, 8.3), (8.9, 7.3), (8.85, 6.2), (8.4, 5.5), (7.6, 5.05), (6.7, 4.65),
     (6.42, 4.75), (6.4, 5.3), (6.55, 6.05), (6.88, 6.9), (7.3, 7.7), (7.8, 8.35), (8.3, 8.8),
     (8.75, 8.85)],
    [(8.5, 8.75), (8.62, 8.3), (8.45, 7.5), (8.55, 6.8), (8.55, 6.1), (8.1, 5.4), (7.3, 5.0), (6.6, 4.8),
     (6.52, 5.3), (6.68, 6.1), (7.0, 6.9), (7.4, 7.6), (7.85, 8.3), (8.2, 8.7), (8.5, 8.75)],
]
D_CORE = [
    (7.45, 5.95, 3.0, 1.75, 60), (7.44, 5.92, 2.7, 1.6, 58), (7.43, 5.90, 2.4, 1.5, 55),
    (7.42, 5.88, 2.15, 1.4, 52), (7.41, 5.86, 1.9, 1.3, 50), (7.40, 5.84, 1.7, 1.2, 48),
    (7.40, 5.82, 1.5, 1.08, 45), (7.39, 5.80, 1.3, 0.95, 45), (7.39, 5.79, 1.1, 0.82, 45),
    (7.38, 5.78, 0.9, 0.68, 45), (7.38, 5.77, 0.7, 0.54, 45), (7.37, 5.76, 0.5, 0.40, 45),
]

PARULA = LinearSegmentedColormap.from_list(
    "parula8",
    [
        (0.2422, 0.1504, 0.6603), (0.2810, 0.3228, 0.9579), (0.1786, 0.5289, 0.9682),
        (0.0689, 0.6948, 0.8394), (0.2161, 0.7843, 0.5923), (0.6720, 0.7793, 0.2227),
        (0.9970, 0.7659, 0.2199), (0.9769, 0.9839, 0.0805),
    ],
)
MOPS_BLUE = "#0072BD"
CLOUD_GREY = "#cbcbcb"
FONT = 14


def style_axes(ax) -> None:
    """MATLAB-like box axes with inward ticks on all sides."""

    for spine in ax.spines.values():
        spine.set_color("0.25")
        spine.set_linewidth(0.9)
    ax.tick_params(direction="in", top=True, right=True, length=5, width=0.8,
                   labelsize=FONT, color="0.25", pad=4)


def draw_time_series(ax, t_mops, mops, t_emu, emu, ylim, yticks, ylabel,
                     lows, highs, text_pos, legend_loc, legend_anchor, big_label) -> None:
    """One time-series panel with event boxes and legend."""

    ax.plot(t_mops, mops, color=MOPS_BLUE, lw=2.0, label="MOPS", zorder=3)
    ax.plot(t_emu, emu, color="black", lw=1.7, dashes=(4, 1.5, 1, 1.5), label="Emulator", zorder=4)

    box_styles = [(0, (1, 1.5)), "solid", (0, (5, 1.5, 1, 1.5))]
    for i, label in enumerate(EVENT_LABELS):
        rect = Rectangle((EVENT_START[i], lows[i]), EVENT_END[i] - EVENT_START[i], highs[i] - lows[i],
                         fill=False, ec="black", lw=0.9, ls=box_styles[i], zorder=5)
        ax.add_patch(rect)
        size = 15 if (big_label and label == "2.") else 10
        ax.text(text_pos[i][0], text_pos[i][1], label, fontsize=size, ha="left", va="center", zorder=6)

    ax.set_xlim(0, 72)
    ax.set_ylim(*ylim)
    ax.set_xticks(TIME_TICKS)
    ax.set_xticklabels(TIME_TICK_LABELS)
    ax.set_yticks(yticks)
    ax.set_ylabel(ylabel, fontsize=FONT + 1, labelpad=4)
    style_axes(ax)
    ax.tick_params(axis="x", pad=7)

    leg = ax.legend(loc=legend_loc, bbox_to_anchor=legend_anchor, fontsize=FONT, frameon=True,
                    fancybox=False, framealpha=1, edgecolor="0.2", handlelength=3.3,
                    borderpad=0.3, labelspacing=0.15, handletextpad=0.3, borderaxespad=0)
    leg.get_frame().set_linewidth(0.9)
    leg.set_zorder(10)


def draw_scatter_panel(ax, cloud, sparse_x, sparse_y, outer, islands, rings, core, lim, title) -> None:
    """Scatter cloud with density-contour rings and a 1:1 line."""

    ax.add_patch(Polygon(cloud, closed=True, fc=CLOUD_GREY, ec=CLOUD_GREY, lw=1.5, zorder=1))
    ax.scatter(sparse_x, sparse_y, s=8, color=CLOUD_GREY, lw=0, zorder=1)

    n_levels = (1 if outer is not None else 0) + len(rings) + len(core)
    colours = [PARULA(i / (n_levels - 1)) for i in range(n_levels)]
    level = 0
    if outer is not None:
        ax.plot([p[0] for p in outer], [p[1] for p in outer], color=colours[0], lw=2.4, zorder=4)
        for loop in islands:
            ax.plot([p[0] for p in loop], [p[1] for p in loop], color=colours[0], lw=2.4, zorder=4)
        level = 1
    for ring in rings:
        ax.add_patch(Polygon(ring, closed=True, fill=False, ec=colours[level], lw=2.4,
                             joinstyle="round", zorder=4))
        level += 1
    for cx, cy, length, width, angle in core:
        ax.add_patch(Ellipse((cx, cy), length, width, angle=angle, fill=False,
                             ec=colours[level], lw=2.4, zorder=4))
        level += 1

    ax.plot([0, lim], [0, lim], color="black", lw=0.8, dashes=(3, 2.5), zorder=6)
    ax.set_xlim(0, lim)
    ax.set_ylim(0, lim)
    ax.set_title(title, fontsize=FONT + 2, fontweight="bold", pad=3)
    style_axes(ax)
    ax.tick_params(axis="x", pad=7)


def main() -> None:
    fig = plt.figure(figsize=(10.9, 9.71), dpi=100)

    ax_a = fig.add_axes([0.0706, 0.8043, 0.8927, 0.1779])
    draw_time_series(ax_a, HS_MOPS_T, HS_MOPS, HS_EMU_T, HS_EMU, (0, 4), [0, 2, 4], "Hs (m)",
                     EVENT_HS_LOW, EVENT_HS_HIGH, EVENT_HS_TEXT, "upper right", (0.978, 0.874), False)

    ax_b = fig.add_axes([0.0706, 0.5572, 0.8927, 0.1782])
    draw_time_series(ax_b, TM_MOPS_T, TM_MOPS, TM_EMU_T, TM_EMU, (0, 18), [0, 5, 10, 15], "Tm (s)",
                     EVENT_TM_LOW, EVENT_TM_HIGH, EVENT_TM_TEXT, "lower right", (0.985, 0.121), True)

    ax_c = fig.add_axes([0.0679, 0.0649, 0.4, 0.4233])
    draw_scatter_panel(ax_c, C_CLOUD, C_SPARSE_X, C_SPARSE_Y, C_OUTER, C_ISLANDS, C_RINGS, C_CORE,
                       3.5, C_TITLE)
    ax_c.set_xticks(C_TICKS)
    ax_c.set_xticklabels(C_TICK_LABELS)
    ax_c.set_yticks(C_TICKS)
    ax_c.set_yticklabels(C_TICK_LABELS)
    ax_c.set_xlabel("MOPS Hs (m)", fontsize=FONT + 1, labelpad=3)
    ax_c.set_ylabel("Emulator Hs (m)", fontsize=FONT + 1, labelpad=6)

    ax_d = fig.add_axes([0.5431, 0.0649, 0.3963, 0.4233])
    draw_scatter_panel(ax_d, D_CLOUD, D_SPARSE_X, D_SPARSE_Y, None, [], D_RINGS, D_CORE, 17, D_TITLE)
    ax_d.set_xticks(D_XTICKS)
    ax_d.set_yticks(D_YTICKS)
    ax_d.set_xlabel("MOPS Tm (s)", fontsize=FONT + 1, labelpad=3)
    ax_d.set_ylabel("Emulator Tm (s)", fontsize=FONT + 1, labelpad=4)

    for label, x, y in [("a)", 28, 23), ("b)", 29, 260), ("c)", 27, 482), ("d)", 563, 480)]:
        fig.text(x / 1090, 1 - y / 971, label, fontsize=FONT + 1, ha="center", va="center")

    fig.savefig("out.png", dpi=100)
    plt.close(fig)


if __name__ == "__main__":
    main()
